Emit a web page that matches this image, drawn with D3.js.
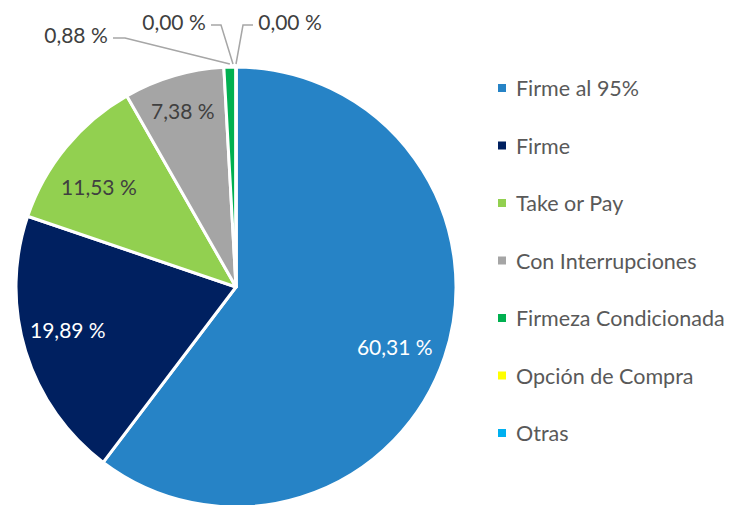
<!DOCTYPE html>
<html>
<head>
<meta charset="utf-8">
<script src="https://cdn.jsdelivr.net/npm/d3@7"></script>
<style>
  html, body { margin: 0; padding: 0; background: #ffffff; }
  svg { display: block; }
</style>
</head>
<body>
<svg id="chart" width="731" height="505"></svg>
<script>
// Contract types and their share of the total (%)
const categories = ["Firme al 95%", "Firme", "Take or Pay", "Con Interrupciones", "Firmeza Condicionada", "Opción de Compra", "Otras"];
const shares = [60.31, 19.89, 11.53, 7.38, 0.88, 0.00, 0.00];
const labels = ["60,31 %", "19,89 %", "11,53 %", "7,38 %", "0,88 %", "0,00 %", "0,00 %"];
const colors = ["#2683C6", "#002060", "#92D050", "#A5A5A5", "#00B050", "#FFFF00", "#00B0F0"];

const svg = d3.select("#chart");
const font = "Lato, 'Open Sans', sans-serif";
const cx = 236, cy = 287, R = 220;

const data = categories.map((c, i) => ({ name: c, value: shares[i], label: labels[i], color: colors[i] }));

const pie = d3.pie().value(d => d.value).sort(null);
const arcs = pie(data);
const arc = d3.arc().innerRadius(0).outerRadius(R);
const labelArc = d3.arc().innerRadius(R * 0.79).outerRadius(R * 0.79);

const g = svg.append("g").attr("transform", `translate(${cx},${cy})`);

g.selectAll("path.slice")
  .data(arcs)
  .join("path")
  .attr("class", "slice")
  .attr("d", arc)
  .attr("fill", d => d.data.color)
  .attr("stroke", "#ffffff")
  .attr("stroke-width", 3)
  .attr("stroke-linejoin", "round");

// Labels inside the larger slices, nudged off the centroid for legibility
const inside = arcs.filter(d => d.data.value >= 5);
const nudges = [[-6, 4], [-2, -8], [-3, 10], [-4, -10]];
const labelColor = i => (i < 2 ? "#ffffff" : "#404040");
g.selectAll("text.inlabel")
  .data(inside)
  .join("text")
  .attr("class", "inlabel")
  .attr("transform", d => {
    const [x, y] = labelArc.centroid(d);
    const [nx, ny] = nudges[d.index];
    return `translate(${x + nx},${y + ny})`;
  })
  .attr("text-anchor", "middle")
  .attr("dominant-baseline", "central")
  .attr("font-family", font)
  .attr("font-size", 21)
  .attr("fill", d => labelColor(d.index))
  .text(d => d.data.label);

// Small slices get callout labels above the pie, joined by leader lines
const outside = arcs.filter(d => d.data.value < 5);
const callouts = [
  { tx: 76, ty: 34, side: "left", elbow: -12 },
  { tx: 174, ty: 21, side: "left", elbow: -10 },
  { tx: 290, ty: 21, side: "right", elbow: 10 }
];
const textHalf = 33;

outside.forEach((d, k) => {
  const c = callouts[k];
  const mid = (d.startAngle + d.endAngle) / 2;
  const off = k === 1 ? -3 : 0;
  const ex = cx + Math.sin(mid) * (R + 3) + off;
  const ey = cy - Math.cos(mid) * (R + 3);
  const sx = c.side === "left" ? c.tx + textHalf + 4 : c.tx - textHalf - 4;
  const kx = sx - c.elbow;
  svg.append("polyline")
    .attr("points", `${sx},${c.ty + 4} ${kx},${c.ty + 4} ${ex},${ey}`)
    .attr("fill", "none")
    .attr("stroke", "#A6A6A6")
    .attr("stroke-width", 1.5);
  svg.append("text")
    .attr("x", c.tx)
    .attr("y", c.ty)
    .attr("text-anchor", "middle")
    .attr("dominant-baseline", "central")
    .attr("font-family", font)
    .attr("font-size", 21)
    .attr("fill", "#404040")
    .text(d.data.label);
});

// Legend
const legendY = d3.scalePoint().domain(categories).range([88, 433]);
const legend = svg.append("g");
const rows = legend.selectAll("g.row")
  .data(data)
  .join("g")
  .attr("class", "row")
  .attr("transform", d => `translate(498,${legendY(d.name)})`);
rows.append("rect")
  .attr("x", 0).attr("y", -4)
  .attr("width", 8).attr("height", 8)
  .attr("fill", d => d.color);
rows.append("text")
  .attr("x", 18)
  .attr("y", 0)
  .attr("dominant-baseline", "central")
  .attr("font-family", font)
  .attr("font-size", 21.5)
  .attr("fill", "#595959")
  .text(d => d.name);
</script>
</body>
</html>
